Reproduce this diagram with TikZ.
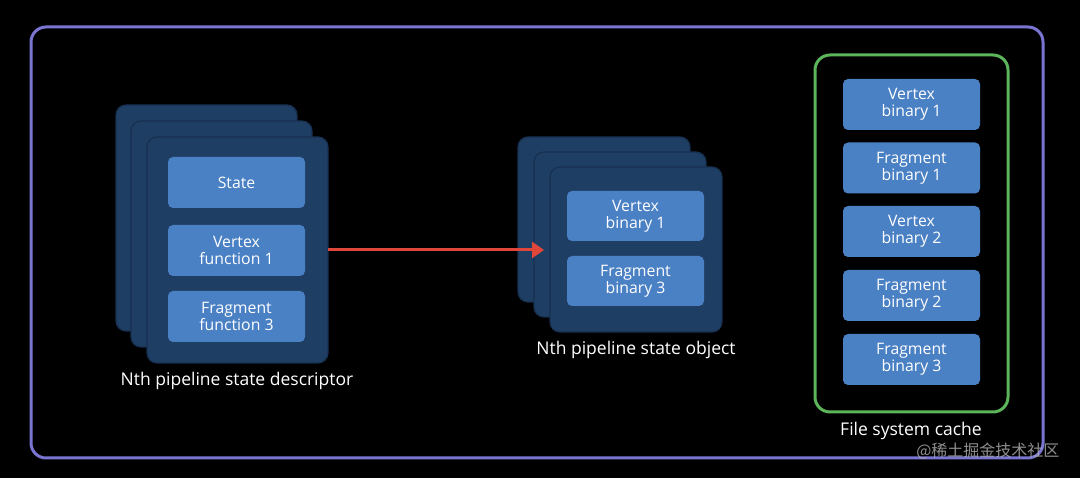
\documentclass[tikz,border=0pt]{standalone}
\usepackage{fontspec}
\setmainfont{Open Sans}
\newfontfamily\cjk{Noto Sans CJK SC}
\usetikzlibrary{arrows.meta}
\definecolor{frame}{HTML}{7B75D2}
\definecolor{cardc}{HTML}{1F3E64}
\definecolor{cardedge}{HTML}{17304F}
\definecolor{innerc}{HTML}{4A80C4}
\definecolor{greenf}{HTML}{5DB55A}
\definecolor{arrowc}{HTML}{E0463A}
\begin{document}
\begin{tikzpicture}[x=1pt,y=-1pt,
  card/.style={fill=cardc,draw=cardedge,line width=1.2pt,rounded corners=10pt},
  inner/.style={fill=innerc,rounded corners=5pt,text=white,align=center,font=\fontsize{15.8}{17}\selectfont,inner sep=0pt},
  lbl/.style={text=white,font=\fontsize{17.5}{20}\selectfont}]
\fill[black] (0,0) rectangle (1080,478);
\useasboundingbox (0,0) rectangle (1080,478);
% outer frame
\draw[frame,line width=3pt,rounded corners=15pt] (31,27) rectangle (1043,458);
% left stack
\draw[card] (116,105) rectangle (297,331);
\draw[card] (131,121) rectangle (312,347);
\draw[card] (147,137) rectangle (328,363);
\node[inner,minimum width=137pt,minimum height=51pt] (s1) at (236.5,182.5) {State};
\node[inner,minimum width=137pt,minimum height=51pt] (s2) at (236.5,250.5) {Vertex\\function 1};
\node[inner,minimum width=137pt,minimum height=51pt] (s3) at (236.5,316.5) {Fragment\\function 3};
\coordinate (descR) at (328,250);
\node[lbl] (desc) at (237,381) {Nth pipeline state descriptor};
% middle stack
\draw[card] (518,137) rectangle (690,302);
\draw[card] (534,152) rectangle (706,317);
\draw[card] (550,167) rectangle (722,332);
\coordinate (objL) at (544,250);
\node[inner,minimum width=137pt,minimum height=50pt] (o1) at (635.5,216) {Vertex\\binary 1};
\node[inner,minimum width=137pt,minimum height=50pt] (o2) at (635.5,281) {Fragment\\binary 3};
\node[lbl] (obj) at (636,350) {Nth pipeline state object};
% arrow
\draw[arrowc,line width=3pt,-{Triangle[length=12pt,width=16pt]}] (descR) -- (objL);
% cache
\draw[greenf,line width=3pt,rounded corners=15pt] (815,55) rectangle (1008,412);
\node[inner,minimum width=137pt,minimum height=51pt] (c1) at (911.5,104.5) {Vertex\\binary 1};
\node[inner,minimum width=137pt,minimum height=51pt] (c2) at (911.5,168) {Fragment\\binary 1};
\node[inner,minimum width=137pt,minimum height=51pt] (c3) at (911.5,231.5) {Vertex\\binary 2};
\node[inner,minimum width=137pt,minimum height=51pt] (c4) at (911.5,295.5) {Fragment\\binary 2};
\node[inner,minimum width=137pt,minimum height=51pt] (c5) at (911.5,359.5) {Fragment\\binary 3};
\node[lbl] (cache) at (911,431) {File system cache};
\node[text=white!70!black,opacity=0.8,font=\cjk\fontsize{16}{19}\selectfont,anchor=east] (wm) at (1063,451) {@稀土掘金技术社区};
\end{tikzpicture}
\end{document}
